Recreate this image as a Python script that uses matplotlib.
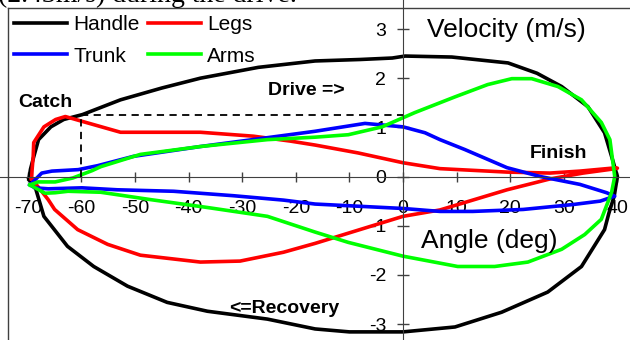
import matplotlib
matplotlib.use('Agg')
import matplotlib.pyplot as plt
from matplotlib.lines import Line2D

# loops: drive half first, then recovery half
handle_angle = [-69.8, -69.5, -68.9, -68.0, -65.7, -63.3, -59.8, -52.7, -45.0, -37.8, -27.0, -16.4,
                -8.0, -2.0, 0.4, 9.1, 19.6, 25.0, 29.6, 34.5, 37.6, 39.1, 40.0, 39.4, 38.4, 37.6,
                33.3, 27.0, 18.4, 9.7, 0.0, -10.0, -16.4, -25.3, -36.5, -44.0, -51.4, -57.7,
                -62.6, -67.0, -68.5, -69.8]
handle_vel = [-0.05, 0.15, 0.4, 0.75, 1.01, 1.16, 1.26, 1.56, 1.8, 2.0, 2.22, 2.35,
              2.38, 2.41, 2.45, 2.43, 2.31, 2.1, 1.83, 1.42, 0.89, 0.34, 0.0, -0.4, -0.75, -1.08,
              -1.83, -2.35, -2.76, -3.06, -3.16, -3.16, -3.1, -2.9, -2.74, -2.56, -2.23, -1.83,
              -1.42, -0.81, -0.26, -0.05]

legs_angle = [-69.3, -69.2, -69.0, -68.9, -67.0, -64.8, -63.0, -59.8, -52.7, -37.8, -27.9, -21.0,
              -16.4, -8.4, 0.0, 6.9, 19.4, 27.4, 33.0, 39.0, 40.0,
              39.0, 33.6, 27.4, 19.4, 6.9, 0.0, -16.4, -22.3, -30.4, -37.8, -49.0, -55.1,
              -60.7, -65.0, -66.2, -68.0, -69.3]
legs_vel = [-0.05, 0.14, 0.4, 0.69, 1.01, 1.16, 1.22, 1.12, 0.9, 0.9, 0.82, 0.72,
            0.64, 0.48, 0.28, 0.16, 0.09, 0.07, 0.11, 0.17, 0.17,
            0.15, 0.07, -0.05, -0.27, -0.68, -0.81, -1.36, -1.54, -1.72, -1.74, -1.6, -1.38,
            -1.08, -0.67, -0.47, -0.22, -0.05]

trunk_angle = [-69.6, -67.4, -65.5, -60.6, -57.0, -50.3, -37.8, -25.3, -16.4, -7.1, 0.0, 4.1,
               6.9, 11.5, 19.4, 25.6, 33.0, 38.0, 39.5,
               36.8, 31.7, 22.4, 13.0, 6.9, 0.0, -16.4, -22.3, -31.7, -42.8, -53.3, -59.9,
               -66.2, -68.7, -69.6]
trunk_vel = [-0.17, 0.07, 0.11, 0.14, 0.22, 0.41, 0.61, 0.79, 0.92, 1.08, 1.01, 0.89,
             0.75, 0.55, 0.18, 0.0, -0.16, -0.33, -0.4,
             -0.5, -0.57, -0.67, -0.71, -0.71, -0.65, -0.56, -0.48, -0.39, -0.3, -0.27, -0.23,
             -0.25, -0.23, -0.17]

arms_angle = [-69.6, -68.1, -64.9, -61.6, -58.0, -56.4, -49.0, -37.8, -25.3, -16.4, -10.2, -3.9,
              2.2, 9.7, 15.8, 20.3, 24.0, 28.9, 33.3, 37.0, 38.6, 39.5,
              38.9, 37.0, 33.9, 29.6, 23.3, 17.1, 10.2, 0.0, -10.2, -16.4, -25.3, -36.5,
              -47.1, -56.4, -62.5, -64.9, -66.8, -69.6]
arms_vel = [-0.17, -0.11, -0.11, -0.03, 0.12, 0.2, 0.45, 0.61, 0.75, 0.8, 0.85, 1.01,
            1.3, 1.62, 1.87, 1.99, 1.99, 1.83, 1.56, 1.1, 0.75, 0.0,
            -0.33, -0.87, -1.18, -1.48, -1.74, -1.83, -1.83, -1.62, -1.34, -1.13, -0.81, -0.63,
            -0.47, -0.32, -0.3, -0.33, -0.34, -0.17]

catch_angle = -60
catch_vel = 1.25

xticks = [-70, -60, -50, -40, -30, -20, -10, 0, 10, 20, 30, 40]
yticks = [-3, -2, -1, 0, 1, 2, 3]

plt.rcParams['font.family'] = ['Liberation Sans', 'DejaVu Sans']
plt.rcParams['axes.unicode_minus'] = False

fig = plt.figure(figsize=(6.3, 3.4), dpi=100)
ax = fig.add_axes([0, 0, 1, 1])
ax.patch.set_alpha(0)

lw = 2.6
l_handle, = ax.plot(handle_angle, handle_vel, color='black', lw=lw, solid_joinstyle='round', label='Handle')
l_legs, = ax.plot(legs_angle, legs_vel, color='#ff0000', lw=lw, solid_joinstyle='round', label='Legs')
l_trunk, = ax.plot(trunk_angle, trunk_vel, color='#0000ff', lw=lw, solid_joinstyle='round', label='Trunk')
l_arms, = ax.plot(arms_angle, arms_vel, color='#00ff00', lw=lw, solid_joinstyle='round', label='Arms')

# dashed guide lines at the catch
ax.plot([catch_angle, 0], [catch_vel, catch_vel], color='black', lw=1.3, ls=(0, (4, 3)))
ax.plot([catch_angle, catch_angle], [0, catch_vel], color='black', lw=1.3, ls=(0, (4, 3)))

ax.set_xlim(-75.19, 42.35)
ax.set_ylim(-3.325, 3.59)

for s in ['top', 'right']:
    ax.spines[s].set_visible(False)
ax.spines['left'].set_position(('data', 0))
ax.spines['bottom'].set_position(('data', 0))
ax.spines['left'].set_color('#404040')
ax.spines['bottom'].set_color('#404040')
ax.set_xticks(xticks)
ax.set_yticks(yticks)
ax.tick_params(axis='x', direction='inout', length=7, width=1, color='#404040', pad=13.5, labelsize=14)
ax.tick_params(axis='y', direction='inout', length=8, width=1, color='#404040', pad=8, labelsize=14)

ax.text(4.5, 2.84, 'Velocity (m/s)', fontsize=19, ha='left', va='baseline')
ax.text(3.4, -1.45, 'Angle (deg)', fontsize=19, ha='left', va='baseline')
ax.text(-71.8, 1.41, 'Catch', fontsize=14, fontweight='bold', ha='left', va='baseline')
ax.text(-25.2, 1.66, 'Drive =>', fontsize=14, fontweight='bold', ha='left', va='baseline')
ax.text(23.7, 0.38, 'Finish', fontsize=14, fontweight='bold', ha='left', va='baseline')
ax.text(-32.5, -2.78, '<=Recovery', fontsize=14, fontweight='bold', ha='left', va='baseline')

ax.legend(handles=[l_handle, l_trunk, l_legs, l_arms], ncol=2, frameon=False,
          loc='upper left', bbox_to_anchor=(14 / 630, 1 - 15 / 340), bbox_transform=fig.transFigure,
          borderpad=0, borderaxespad=0, handlelength=2.55, handletextpad=0.3,
          columnspacing=0.38, labelspacing=0.6, fontsize=15)

# chart frame (only left and top edges are visible in the crop)
fig.add_artist(Line2D([8 / 630, 8 / 630], [0, 1 - 8 / 340], transform=fig.transFigure, color='#404040', lw=1))
fig.add_artist(Line2D([8 / 630, 1], [1 - 8 / 340, 1 - 8 / 340], transform=fig.transFigure, color='#404040', lw=1))

# caption text clipped at the top edge
fig.text(-2 / 630, 1 - 1.5 / 340, '(2.43m/s) during the drive.', fontsize=20,
         family=['Liberation Serif', 'DejaVu Serif'], ha='left', va='baseline')

fig.savefig('out.png', dpi=100)
